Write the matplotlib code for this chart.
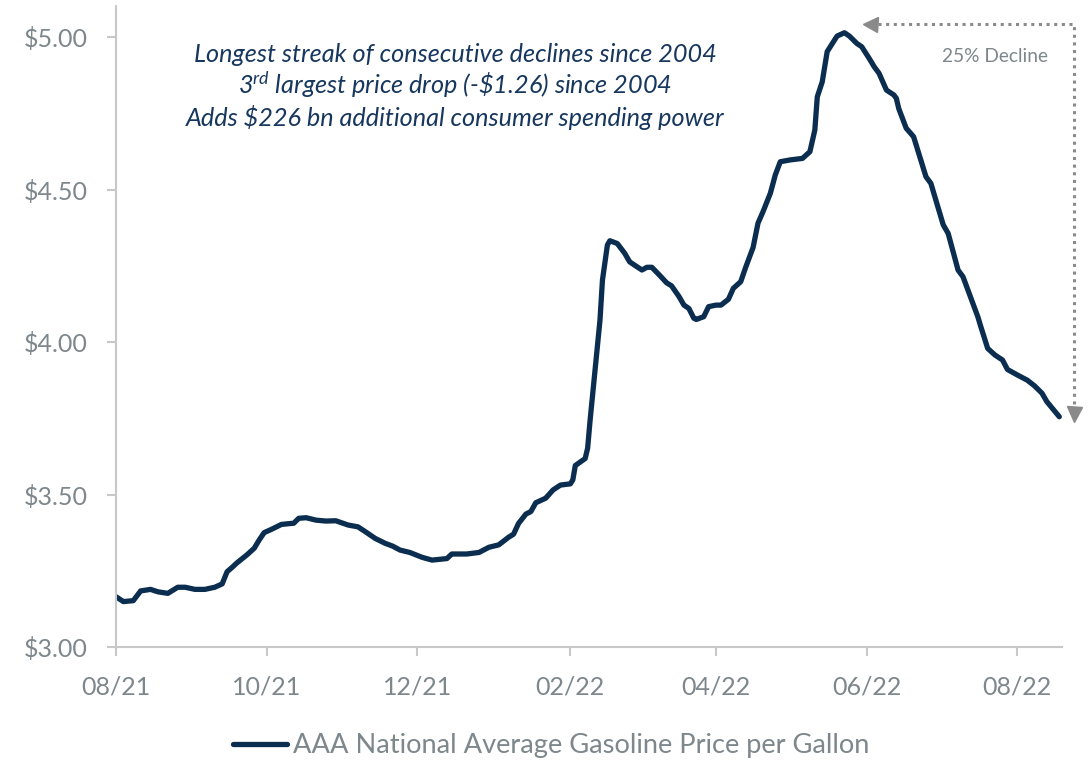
import matplotlib
matplotlib.use("Agg")
import matplotlib.pyplot as plt
import matplotlib.dates as mdates
from matplotlib.lines import Line2D
from matplotlib.transforms import IdentityTransform
from matplotlib.ticker import FixedLocator, FuncFormatter
import pandas as pd

plt.rcParams['font.family'] = ['Lato', 'DejaVu Sans']
plt.rcParams['mathtext.fontset'] = 'custom'
plt.rcParams['mathtext.it'] = 'Lato:italic'
plt.rcParams['mathtext.rm'] = 'Lato'
plt.rcParams['mathtext.default'] = 'it'

# AAA national average regular gasoline price ($/gal)
dates = [
    "2021-08-01", "2021-08-04", "2021-08-08", "2021-08-11", "2021-08-15", "2021-08-18",
    "2021-08-22", "2021-08-26", "2021-08-29", "2021-09-02", "2021-09-06", "2021-09-10",
    "2021-09-13", "2021-09-15", "2021-09-17", "2021-09-19", "2021-09-23", "2021-09-26",
    "2021-09-28", "2021-09-30", "2021-10-03", "2021-10-07", "2021-10-12", "2021-10-14",
    "2021-10-17", "2021-10-21", "2021-10-25", "2021-10-29", "2021-11-03", "2021-11-07",
    "2021-11-10", "2021-11-14", "2021-11-18", "2021-11-21", "2021-11-24", "2021-11-28",
    "2021-12-03", "2021-12-07", "2021-12-13", "2021-12-15", "2021-12-21", "2021-12-26",
    "2021-12-30", "2022-01-03", "2022-01-07", "2022-01-09", "2022-01-11", "2022-01-14",
    "2022-01-16", "2022-01-18", "2022-01-22", "2022-01-25", "2022-01-28", "2022-02-01",
    "2022-02-02", "2022-02-03", "2022-02-07", "2022-02-08", "2022-02-09", "2022-02-11",
    "2022-02-13", "2022-02-14", "2022-02-16", "2022-02-17", "2022-02-20", "2022-02-23",
    "2022-02-25", "2022-02-27", "2022-03-02", "2022-03-04", "2022-03-06", "2022-03-09",
    "2022-03-12", "2022-03-14", "2022-03-17", "2022-03-19", "2022-03-21", "2022-03-23",
    "2022-03-24", "2022-03-27", "2022-03-29", "2022-04-01", "2022-04-03", "2022-04-06",
    "2022-04-08", "2022-04-11", "2022-04-13", "2022-04-16", "2022-04-18", "2022-04-20",
    "2022-04-23", "2022-04-25", "2022-04-27", "2022-05-01", "2022-05-06", "2022-05-09",
    "2022-05-11", "2022-05-12", "2022-05-14", "2022-05-16", "2022-05-20", "2022-05-23",
    "2022-05-25", "2022-05-28", "2022-05-30", "2022-06-02", "2022-06-04", "2022-06-06",
    "2022-06-09", "2022-06-12", "2022-06-13", "2022-06-14", "2022-06-17", "2022-06-20",
    "2022-06-25", "2022-06-27", "2022-07-02", "2022-07-04", "2022-07-08", "2022-07-10",
    "2022-07-16", "2022-07-17", "2022-07-20", "2022-07-23", "2022-07-26", "2022-07-28",
    "2022-08-01", "2022-08-05", "2022-08-08", "2022-08-11", "2022-08-13", "2022-08-18",
]
prices = [
    3.165, 3.149, 3.152, 3.184, 3.189, 3.181,
    3.176, 3.196, 3.196, 3.189, 3.189, 3.196,
    3.207, 3.247, 3.261, 3.276, 3.302, 3.324,
    3.351, 3.375, 3.386, 3.402, 3.406, 3.422,
    3.424, 3.416, 3.413, 3.414, 3.400, 3.394,
    3.378, 3.356, 3.340, 3.331, 3.318, 3.310,
    3.294, 3.285, 3.290, 3.305, 3.305, 3.310,
    3.327, 3.335, 3.360, 3.370, 3.405, 3.436,
    3.444, 3.473, 3.488, 3.515, 3.531, 3.535,
    3.548, 3.595, 3.618, 3.652, 3.744, 3.908,
    4.072, 4.203, 4.318, 4.332, 4.323, 4.291,
    4.263, 4.252, 4.236, 4.245, 4.245, 4.220,
    4.194, 4.184, 4.149, 4.121, 4.110, 4.078,
    4.074, 4.083, 4.116, 4.121, 4.121, 4.140,
    4.176, 4.198, 4.245, 4.310, 4.390, 4.427,
    4.488, 4.548, 4.591, 4.597, 4.602, 4.624,
    4.695, 4.804, 4.853, 4.952, 5.003, 5.014,
    5.003, 4.979, 4.968, 4.930, 4.903, 4.881,
    4.826, 4.810, 4.799, 4.765, 4.701, 4.673,
    4.542, 4.520, 4.384, 4.356, 4.236, 4.214,
    4.083, 4.056, 3.979, 3.957, 3.941, 3.910,
    3.892, 3.875, 3.856, 3.832, 3.804, 3.755,
]
series_label = "AAA National Average Gasoline Price per Gallon"

y_ticks = [3.00, 3.50, 4.00, 4.50, 5.00]
x_tick_dates = ["2021-08-01", "2021-10-01", "2021-12-01", "2022-02-01",
                "2022-04-01", "2022-06-01", "2022-08-01"]
x_tick_labels = ["08/21", "10/21", "12/21", "02/22", "04/22", "06/22", "08/22"]

note_lines = [
    "Longest streak of consecutive declines since 2004",
    r"3$^{rd}$ largest price drop (-\$1.26) since 2004",
    "Adds $226 bn additional consumer spending power",
]
decline_label = "25% Decline"

NAVY = "#0b2d4f"
NOTE = "#17375e"
GREY_TXT = "#7d878c"
AXIS = "#c8c8c8"
ARROW = "#8a8a8a"

fig = plt.figure(figsize=(10.89, 7.64), dpi=100)
ax = fig.add_axes([0.1065, 0.1531, 0.8685, 0.8384])

x = pd.to_datetime(dates)
ax.plot(x, prices, color=NAVY, lw=3.8, solid_joinstyle="round",
        solid_capstyle="round", label=series_label)

ax.set_xlim(pd.Timestamp("2021-08-01"), pd.Timestamp("2022-08-19"))
ax.set_ylim(3.0, 5.1)

ax.yaxis.set_major_locator(FixedLocator(y_ticks))
ax.yaxis.set_major_formatter(FuncFormatter(lambda v, p: f"${v:.2f}"))
ax.set_xticks(mdates.date2num(pd.to_datetime(x_tick_dates)))
ax.set_xticklabels(x_tick_labels)

for side in ("top", "right"):
    ax.spines[side].set_visible(False)
for side in ("left", "bottom"):
    ax.spines[side].set_color(AXIS)
    ax.spines[side].set_linewidth(1.5)
ax.tick_params(axis="both", direction="out", length=6.5, width=1.5,
               color=AXIS, labelcolor=GREY_TXT, labelsize=18, pad=14)

# commentary block
baselines = [0.9138, 0.8629, 0.8134]
for line, yb in zip(note_lines, baselines):
    ax.text(0.3584, yb, line, transform=ax.transAxes, ha="center",
            va="baseline", fontsize=18.2, style="italic", color=NOTE)

# peak-to-latest decline marker (drawn in pixel space)
fig.canvas.draw()
def px(date, val):
    return ax.transData.transform((mdates.date2num(pd.Timestamp(date)), val))

corner = px("2022-08-24", 5.042)
h_tip = px("2022-05-30 12:00", 5.042)
v_tip = px("2022-08-24", 3.739)
head = 15.0
xs = [h_tip[0] + head, corner[0], corner[0]]
ys = [corner[1], corner[1], v_tip[1] + head]
fig.add_artist(Line2D(xs, ys, transform=IdentityTransform(), color=ARROW,
                      lw=2.2, linestyle=(0, (1, 1.5)), dash_capstyle="butt"))
fig.add_artist(Line2D([h_tip[0] + head / 2], [h_tip[1]], transform=IdentityTransform(),
                      marker="<", markersize=head * 0.72, color=ARROW, lw=0))
fig.add_artist(Line2D([v_tip[0]], [v_tip[1] + head / 2], transform=IdentityTransform(),
                      marker="v", markersize=head * 0.72, color=ARROW, lw=0))
fig.text(995 / 1089, 1 - 56 / 764, decline_label, ha="center", va="center",
         fontsize=13.8, color=GREY_TXT)

leg = fig.legend(loc="center", bbox_to_anchor=(551 / 1089, 1 - 746 / 764),
                 frameon=False, handlelength=2.0, handletextpad=0.2,
                 fontsize=19.6, labelcolor=GREY_TXT)

fig.savefig("out.png", dpi=100)
